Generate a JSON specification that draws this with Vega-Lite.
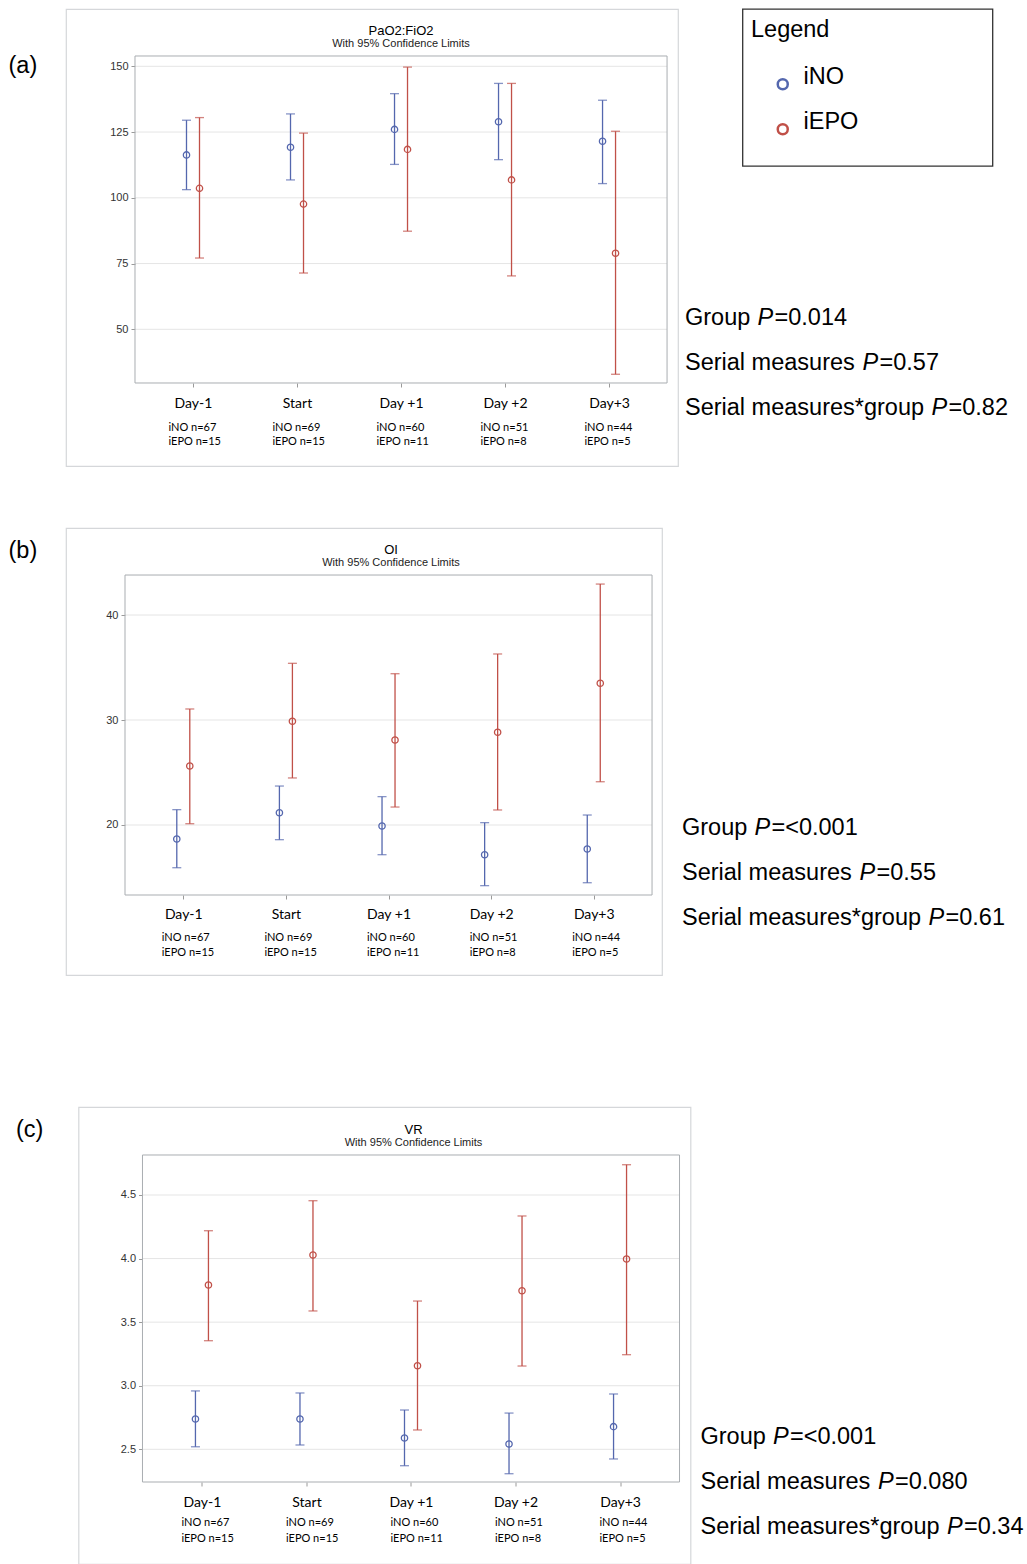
{
"$schema": "https://vega.github.io/schema/vega-lite/v6.json",
"background": "white",
"padding": {"left": 8, "top": 8, "right": 0, "bottom": 0},
"config": {"view": {"stroke": null}, "font": "Liberation Sans"},
"datasets": {
"pao2": [
{"day":-1,"group":"iNO","mean":116.3,"lo":103.1,"hi":129.5},
{"day":-1,"group":"iEPO","mean":103.6,"lo":77.1,"hi":130.5},
{"day":0,"group":"iNO","mean":119.2,"lo":106.8,"hi":131.9},
{"day":0,"group":"iEPO","mean":97.6,"lo":71.4,"hi":124.6},
{"day":1,"group":"iNO","mean":126.0,"lo":112.7,"hi":139.6},
{"day":1,"group":"iEPO","mean":118.4,"lo":87.3,"hi":149.7},
{"day":2,"group":"iNO","mean":128.9,"lo":114.5,"hi":143.5},
{"day":2,"group":"iEPO","mean":106.8,"lo":70.3,"hi":143.5},
{"day":3,"group":"iNO","mean":121.5,"lo":105.4,"hi":137.1},
{"day":3,"group":"iEPO","mean":78.9,"lo":32.9,"hi":125.3}],
"oi": [
{"day":-1,"group":"iNO","mean":18.67,"lo":15.93,"hi":21.46},
{"day":-1,"group":"iEPO","mean":25.62,"lo":20.12,"hi":31.05},
{"day":0,"group":"iNO","mean":21.17,"lo":18.6,"hi":23.71},
{"day":0,"group":"iEPO","mean":29.88,"lo":24.48,"hi":35.4},
{"day":1,"group":"iNO","mean":19.9,"lo":17.17,"hi":22.7},
{"day":1,"group":"iEPO","mean":28.1,"lo":21.71,"hi":34.41},
{"day":2,"group":"iNO","mean":17.17,"lo":14.22,"hi":20.22},
{"day":2,"group":"iEPO","mean":28.83,"lo":21.43,"hi":36.29},
{"day":3,"group":"iNO","mean":17.71,"lo":14.5,"hi":20.95},
{"day":3,"group":"iEPO","mean":33.5,"lo":24.12,"hi":42.95}],
"vr": [
{"day":-1,"group":"iNO","mean":2.738,"lo":2.52,"hi":2.959},
{"day":-1,"group":"iEPO","mean":3.792,"lo":3.354,"hi":4.219},
{"day":0,"group":"iNO","mean":2.738,"lo":2.534,"hi":2.943},
{"day":0,"group":"iEPO","mean":4.028,"lo":3.588,"hi":4.455},
{"day":1,"group":"iNO","mean":2.589,"lo":2.371,"hi":2.809},
{"day":1,"group":"iEPO","mean":3.157,"lo":2.652,"hi":3.666},
{"day":2,"group":"iNO","mean":2.542,"lo":2.308,"hi":2.785},
{"day":2,"group":"iEPO","mean":3.747,"lo":3.155,"hi":4.335},
{"day":3,"group":"iNO","mean":2.678,"lo":2.424,"hi":2.935},
{"day":3,"group":"iEPO","mean":3.997,"lo":3.244,"hi":4.738}],
"ptext": [
{"panel":"a","line":1,"prefix":"Group","p":"P","suffix":"=0.014"},
{"panel":"a","line":2,"prefix":"Serial measures","p":"P","suffix":"=0.57"},
{"panel":"a","line":3,"prefix":"Serial measures*group","p":"P","suffix":"=0.82"},
{"panel":"b","line":1,"prefix":"Group","p":"P","suffix":"=<0.001"},
{"panel":"b","line":2,"prefix":"Serial measures","p":"P","suffix":"=0.55"},
{"panel":"b","line":3,"prefix":"Serial measures*group","p":"P","suffix":"=0.61"},
{"panel":"c","line":1,"prefix":"Group","p":"P","suffix":"=<0.001"},
{"panel":"c","line":2,"prefix":"Serial measures","p":"P","suffix":"=0.080"},
{"panel":"c","line":3,"prefix":"Serial measures*group","p":"P","suffix":"=0.34"}],
"groups": [{"group":"iNO"},{"group":"iEPO"}]
},
"vconcat": [
{"vconcat": [
{"hconcat": [
  {"width": 1, "height": 114, "data": {"values": [{"label": "(a)"}]}, "mark": {"type": "text", "align": "left", "baseline": "middle", "font": "Liberation Sans", "fontSize": 23.5, "color": "#000"}, "encoding": {"text": {"field": "label"}}},
  {"hconcat": [
    {"width": 612, "height": 457,
     "view": {"stroke": "#d5d7da", "strokeWidth": 1.2},
     "title": {"text": "PaO2:FiO2", "subtitle": "With 95% Confidence Limits", "frame": "group", "anchor": "middle", "dx": 29, "offset": -39.5, "baseline": "top", "font": "Liberation Sans", "fontSize": 13, "fontWeight": "normal", "color": "#000", "subtitleFont": "Liberation Sans", "subtitleFontSize": 11, "subtitleColor": "#222", "subtitlePadding": 0},
     "data": {"name": "pao2"},
     "resolve": {"axis": {"x": "independent", "y": "independent"}},
     "layer": [
      {"data": {"values": [{"v":50},{"v":75},{"v":100},{"v":125},{"v":150}]}, "mark": {"type": "rule", "color": "#e5e5e5", "strokeWidth": 1},
       "encoding": {"x": {"datum": -1.5577, "type": "quantitative", "scale": {"domain": [-2.221, 3.663], "nice": false, "zero": false}, "axis": null}, "x2": {"datum": 3.5577},
                    "y": {"field": "v", "type": "quantitative", "scale": {"domain": [-1.98, 171.79], "nice": false, "zero": false}, "axis": null}}},
      {"data": {"values": [{"box": "plot"}]}, "mark": {"type": "rect", "filled": false, "stroke": "#a9adb1", "strokeWidth": 1},
       "encoding": {"x": {"datum": -1.5577, "type": "quantitative", "scale": {"domain": [-2.221, 3.663], "nice": false, "zero": false}, "axis": null}, "x2": {"datum": 3.5577},
                    "y": {"datum": 29.58, "type": "quantitative", "scale": {"domain": [-1.98, 171.79], "nice": false, "zero": false}, "axis": null}, "y2": {"datum": 153.92}}},
      {"transform": [{"filter": "datum.group == 'iNO'"}], "mark": {"type": "rule", "color": "#5467ae", "strokeWidth": 1.3, "xOffset": -6.5},
       "encoding": {"x": {"field": "day", "type": "quantitative", "scale": {"domain": [-2.221, 3.663], "nice": false, "zero": false},
                          "axis": {"orient": "bottom", "offset": -83, "values": [-1,0,1,2,3], "labelExpr": "datum.value == -1 ? 'Day-1' : datum.value == 0 ? 'Start' : datum.value == 1 ? 'Day +1' : datum.value == 2 ? 'Day +2' : 'Day+3'", "title": null, "grid": false, "domain": false, "tickSize": 4, "tickColor": "#9a9a9a", "labelFont": "Lato", "labelFontSize": 14, "labelColor": "#000", "labelPadding": 9, "labelFlush": false, "labelOverlap": false}},
                    "y": {"field": "lo", "type": "quantitative", "scale": {"domain": [-1.98, 171.79], "nice": false, "zero": false},
                          "axis": {"orient": "left", "offset": -69, "values": [50,75,100,125,150], "title": null, "grid": false, "domain": false, "tickSize": 4, "tickColor": "#9a9a9a", "labelFont": "Liberation Sans", "labelFontSize": 11, "labelColor": "#333", "labelPadding": 3, "labelFlush": false, "labelOverlap": false}},
                    "y2": {"field": "hi"}}},
      {"transform": [{"filter": "datum.group == 'iNO'"}, {"fold": ["lo", "hi"], "as": ["bound", "val"]}], "mark": {"type": "tick", "orient": "horizontal", "color": "#5467ae", "size": 9, "thickness": 1.3, "xOffset": -6.5},
       "encoding": {"x": {"field": "day", "type": "quantitative", "scale": {"domain": [-2.221, 3.663], "nice": false, "zero": false}, "axis": null},
                    "y": {"field": "val", "type": "quantitative", "scale": {"domain": [-1.98, 171.79], "nice": false, "zero": false}, "axis": null}}},
      {"transform": [{"filter": "datum.group == 'iNO'"}], "mark": {"type": "point", "shape": "circle", "filled": false, "size": 40, "strokeWidth": 1.3, "color": "#5467ae", "opacity": 1, "xOffset": -6.5},
       "encoding": {"x": {"field": "day", "type": "quantitative", "scale": {"domain": [-2.221, 3.663], "nice": false, "zero": false}, "axis": null},
                    "y": {"field": "mean", "type": "quantitative", "scale": {"domain": [-1.98, 171.79], "nice": false, "zero": false}, "axis": null}}},
      {"transform": [{"filter": "datum.group == 'iEPO'"}], "mark": {"type": "rule", "color": "#c05048", "strokeWidth": 1.3, "xOffset": 6.5},
       "encoding": {"x": {"field": "day", "type": "quantitative", "scale": {"domain": [-2.221, 3.663], "nice": false, "zero": false},
                          "axis": {"orient": "bottom", "offset": -45, "values": [-1,0,1,2,3], "labelExpr": "datum.value == -1 ? ['iNO n=67', 'iEPO n=15'] : datum.value == 0 ? ['iNO n=69', 'iEPO n=15'] : datum.value == 1 ? ['iNO n=60', 'iEPO n=11'] : datum.value == 2 ? ['iNO n=51', 'iEPO n=8'] : ['iNO n=44', 'iEPO n=5']", "title": null, "grid": false, "domain": false, "ticks": false, "labelFont": "Lato", "labelFontSize": 11, "labelColor": "#000", "labelAlign": "left", "labelOffset": -25, "labelPadding": 0, "labelLineHeight": 14, "labelBaseline": "top", "labelFlush": false, "labelOverlap": false}},
                    "y": {"field": "lo", "type": "quantitative", "scale": {"domain": [-1.98, 171.79], "nice": false, "zero": false}, "axis": null},
                    "y2": {"field": "hi"}}},
      {"transform": [{"filter": "datum.group == 'iEPO'"}, {"fold": ["lo", "hi"], "as": ["bound", "val"]}], "mark": {"type": "tick", "orient": "horizontal", "color": "#c05048", "size": 9, "thickness": 1.3, "xOffset": 6.5},
       "encoding": {"x": {"field": "day", "type": "quantitative", "scale": {"domain": [-2.221, 3.663], "nice": false, "zero": false}, "axis": null},
                    "y": {"field": "val", "type": "quantitative", "scale": {"domain": [-1.98, 171.79], "nice": false, "zero": false}, "axis": null}}},
      {"transform": [{"filter": "datum.group == 'iEPO'"}], "mark": {"type": "point", "shape": "circle", "filled": false, "size": 40, "strokeWidth": 1.3, "color": "#c05048", "opacity": 1, "xOffset": 6.5},
       "encoding": {"x": {"field": "day", "type": "quantitative", "scale": {"domain": [-2.221, 3.663], "nice": false, "zero": false}, "axis": null},
                    "y": {"field": "mean", "type": "quantitative", "scale": {"domain": [-1.98, 171.79], "nice": false, "zero": false}, "axis": null}}}
     ]},
    {"vconcat": [
      {"hconcat": [
        {"width": 57, "height": 1, "data": {"values": []}, "mark": "point"},
        {"width": 250, "height": 157, "view": {"stroke": "#333", "strokeWidth": 1.3}, "data": {"name": "groups"},
         "mark": {"type": "point", "shape": "circle", "filled": false, "opacity": 0},
         "encoding": {"color": {"field": "group", "type": "nominal", "scale": {"domain": ["iNO", "iEPO"], "range": ["#5467ae", "#c05048"]},
           "legend": {"title": "Legend", "orient": "none", "legendX": 743, "legendY": 9, "padding": 0, "titleFont": "Liberation Sans", "titleFontSize": 23.5, "titleFontWeight": "normal", "titleColor": "#000", "titlePadding": 31, "labelFont": "Liberation Sans", "labelFontSize": 23.5, "labelColor": "#000", "labelBaseline": "alphabetic", "symbolType": "circle", "symbolSize": 100, "symbolStrokeWidth": 2.5, "symbolOpacity": 1, "symbolOffset": 20, "labelOffset": 9, "rowPadding": 15}}}}
      ], "spacing": 0},
      {"vconcat": [
        {"hconcat": [
          {"width": 1, "height": 45, "data": {"name": "ptext"}, "transform": [{"filter": "datum.panel == 'a' && datum.line == 1"}], "mark": {"type": "text", "align": "left", "baseline": "middle", "font": "Liberation Sans", "fontSize": 23.5, "color": "#000"}, "encoding": {"text": {"field": "prefix"}}},
          {"hconcat": [
            {"width": 1, "height": 45, "data": {"name": "ptext"}, "transform": [{"filter": "datum.panel == 'a' && datum.line == 1"}], "mark": {"type": "text", "align": "left", "baseline": "middle", "font": "Liberation Sans", "fontSize": 23.5, "fontStyle": "italic", "color": "#000"}, "encoding": {"text": {"field": "p"}}},
            {"width": 1, "height": 45, "data": {"name": "ptext"}, "transform": [{"filter": "datum.panel == 'a' && datum.line == 1"}], "mark": {"type": "text", "align": "left", "baseline": "middle", "font": "Liberation Sans", "fontSize": 23.5, "color": "#000"}, "encoding": {"text": {"field": "suffix"}}}
          ], "spacing": 0}
        ], "spacing": 6.5},
        {"hconcat": [
          {"width": 1, "height": 45, "data": {"name": "ptext"}, "transform": [{"filter": "datum.panel == 'a' && datum.line == 2"}], "mark": {"type": "text", "align": "left", "baseline": "middle", "font": "Liberation Sans", "fontSize": 23.5, "color": "#000"}, "encoding": {"text": {"field": "prefix"}}},
          {"hconcat": [
            {"width": 1, "height": 45, "data": {"name": "ptext"}, "transform": [{"filter": "datum.panel == 'a' && datum.line == 2"}], "mark": {"type": "text", "align": "left", "baseline": "middle", "font": "Liberation Sans", "fontSize": 23.5, "fontStyle": "italic", "color": "#000"}, "encoding": {"text": {"field": "p"}}},
            {"width": 1, "height": 45, "data": {"name": "ptext"}, "transform": [{"filter": "datum.panel == 'a' && datum.line == 2"}], "mark": {"type": "text", "align": "left", "baseline": "middle", "font": "Liberation Sans", "fontSize": 23.5, "color": "#000"}, "encoding": {"text": {"field": "suffix"}}}
          ], "spacing": 0}
        ], "spacing": 6.5},
        {"hconcat": [
          {"width": 1, "height": 45, "data": {"name": "ptext"}, "transform": [{"filter": "datum.panel == 'a' && datum.line == 3"}], "mark": {"type": "text", "align": "left", "baseline": "middle", "font": "Liberation Sans", "fontSize": 23.5, "color": "#000"}, "encoding": {"text": {"field": "prefix"}}},
          {"hconcat": [
            {"width": 1, "height": 45, "data": {"name": "ptext"}, "transform": [{"filter": "datum.panel == 'a' && datum.line == 3"}], "mark": {"type": "text", "align": "left", "baseline": "middle", "font": "Liberation Sans", "fontSize": 23.5, "fontStyle": "italic", "color": "#000"}, "encoding": {"text": {"field": "p"}}},
            {"width": 1, "height": 45, "data": {"name": "ptext"}, "transform": [{"filter": "datum.panel == 'a' && datum.line == 3"}], "mark": {"type": "text", "align": "left", "baseline": "middle", "font": "Liberation Sans", "fontSize": 23.5, "color": "#000"}, "encoding": {"text": {"field": "suffix"}}}
          ], "spacing": 0}
        ], "spacing": 6.5}
      ], "spacing": 0}
    ], "spacing": 128.5}
  ], "spacing": 5.5}
], "spacing": 27},
{"hconcat": [
  {"width": 1, "height": 46, "data": {"values": [{"label": "(b)"}]}, "mark": {"type": "text", "align": "left", "baseline": "middle", "font": "Liberation Sans", "fontSize": 23.5, "color": "#000"}, "encoding": {"text": {"field": "label"}}},
  {"hconcat": [
    {"width": 596, "height": 447,
     "view": {"stroke": "#d5d7da", "strokeWidth": 1.2},
     "title": {"text": "OI", "subtitle": "With 95% Confidence Limits", "frame": "group", "anchor": "middle", "dx": 27, "offset": -39.5, "baseline": "top", "font": "Liberation Sans", "fontSize": 13, "fontWeight": "normal", "color": "#000", "subtitleFont": "Liberation Sans", "subtitleFontSize": 11, "subtitleColor": "#222", "subtitlePadding": 0},
     "data": {"name": "oi"},
     "resolve": {"axis": {"x": "independent", "y": "independent"}},
     "layer": [
      {"data": {"values": [{"v":20},{"v":30},{"v":40}]}, "mark": {"type": "rule", "color": "#e5e5e5", "strokeWidth": 1},
       "encoding": {"x": {"datum": -1.568, "type": "quantitative", "scale": {"domain": [-2.143, 3.665], "nice": false, "zero": false}, "axis": null}, "x2": {"datum": 3.568},
                    "y": {"field": "v", "type": "quantitative", "scale": {"domain": [5.71, 48.29], "nice": false, "zero": false}, "axis": null}}},
      {"data": {"values": [{"box": "plot"}]}, "mark": {"type": "rect", "filled": false, "stroke": "#a9adb1", "strokeWidth": 1},
       "encoding": {"x": {"datum": -1.568, "type": "quantitative", "scale": {"domain": [-2.143, 3.665], "nice": false, "zero": false}, "axis": null}, "x2": {"datum": 3.568},
                    "y": {"datum": 13.33, "type": "quantitative", "scale": {"domain": [5.71, 48.29], "nice": false, "zero": false}, "axis": null}, "y2": {"datum": 43.81}}},
      {"transform": [{"filter": "datum.group == 'iNO'"}], "mark": {"type": "rule", "color": "#5467ae", "strokeWidth": 1.3, "xOffset": -6.5},
       "encoding": {"x": {"field": "day", "type": "quantitative", "scale": {"domain": [-2.143, 3.665], "nice": false, "zero": false},
                          "axis": {"orient": "bottom", "offset": -80, "values": [-1,0,1,2,3], "labelExpr": "datum.value == -1 ? 'Day-1' : datum.value == 0 ? 'Start' : datum.value == 1 ? 'Day +1' : datum.value == 2 ? 'Day +2' : 'Day+3'", "title": null, "grid": false, "domain": false, "tickSize": 4, "tickColor": "#9a9a9a", "labelFont": "Lato", "labelFontSize": 14, "labelColor": "#000", "labelPadding": 8, "labelFlush": false, "labelOverlap": false}},
                    "y": {"field": "lo", "type": "quantitative", "scale": {"domain": [5.71, 48.29], "nice": false, "zero": false},
                          "axis": {"orient": "left", "offset": -59, "values": [20,30,40], "title": null, "grid": false, "domain": false, "tickSize": 4, "tickColor": "#9a9a9a", "labelFont": "Liberation Sans", "labelFontSize": 11, "labelColor": "#333", "labelPadding": 3, "labelFlush": false, "labelOverlap": false}},
                    "y2": {"field": "hi"}}},
      {"transform": [{"filter": "datum.group == 'iNO'"}, {"fold": ["lo", "hi"], "as": ["bound", "val"]}], "mark": {"type": "tick", "orient": "horizontal", "color": "#5467ae", "size": 9, "thickness": 1.3, "xOffset": -6.5},
       "encoding": {"x": {"field": "day", "type": "quantitative", "scale": {"domain": [-2.143, 3.665], "nice": false, "zero": false}, "axis": null},
                    "y": {"field": "val", "type": "quantitative", "scale": {"domain": [5.71, 48.29], "nice": false, "zero": false}, "axis": null}}},
      {"transform": [{"filter": "datum.group == 'iNO'"}], "mark": {"type": "point", "shape": "circle", "filled": false, "size": 40, "strokeWidth": 1.3, "color": "#5467ae", "opacity": 1, "xOffset": -6.5},
       "encoding": {"x": {"field": "day", "type": "quantitative", "scale": {"domain": [-2.143, 3.665], "nice": false, "zero": false}, "axis": null},
                    "y": {"field": "mean", "type": "quantitative", "scale": {"domain": [5.71, 48.29], "nice": false, "zero": false}, "axis": null}}},
      {"transform": [{"filter": "datum.group == 'iEPO'"}], "mark": {"type": "rule", "color": "#c05048", "strokeWidth": 1.3, "xOffset": 6.5},
       "encoding": {"x": {"field": "day", "type": "quantitative", "scale": {"domain": [-2.143, 3.665], "nice": false, "zero": false},
                          "axis": {"orient": "bottom", "offset": -43.5, "values": [-1,0,1,2,3], "labelExpr": "datum.value == -1 ? ['iNO n=67', 'iEPO n=15'] : datum.value == 0 ? ['iNO n=69', 'iEPO n=15'] : datum.value == 1 ? ['iNO n=60', 'iEPO n=11'] : datum.value == 2 ? ['iNO n=51', 'iEPO n=8'] : ['iNO n=44', 'iEPO n=5']", "title": null, "grid": false, "domain": false, "ticks": false, "labelFont": "Lato", "labelFontSize": 11, "labelColor": "#000", "labelAlign": "left", "labelOffset": -22, "labelPadding": 0, "labelLineHeight": 15, "labelBaseline": "top", "labelFlush": false, "labelOverlap": false}},
                    "y": {"field": "lo", "type": "quantitative", "scale": {"domain": [5.71, 48.29], "nice": false, "zero": false}, "axis": null},
                    "y2": {"field": "hi"}}},
      {"transform": [{"filter": "datum.group == 'iEPO'"}, {"fold": ["lo", "hi"], "as": ["bound", "val"]}], "mark": {"type": "tick", "orient": "horizontal", "color": "#c05048", "size": 9, "thickness": 1.3, "xOffset": 6.5},
       "encoding": {"x": {"field": "day", "type": "quantitative", "scale": {"domain": [-2.143, 3.665], "nice": false, "zero": false}, "axis": null},
                    "y": {"field": "val", "type": "quantitative", "scale": {"domain": [5.71, 48.29], "nice": false, "zero": false}, "axis": null}}},
      {"transform": [{"filter": "datum.group == 'iEPO'"}], "mark": {"type": "point", "shape": "circle", "filled": false, "size": 40, "strokeWidth": 1.3, "color": "#c05048", "opacity": 1, "xOffset": 6.5},
       "encoding": {"x": {"field": "day", "type": "quantitative", "scale": {"domain": [-2.143, 3.665], "nice": false, "zero": false}, "axis": null},
                    "y": {"field": "mean", "type": "quantitative", "scale": {"domain": [5.71, 48.29], "nice": false, "zero": false}, "axis": null}}}
     ]},
    {"vconcat": [
      {"width": 1, "height": 276.5, "data": {"values": []}, "mark": "point"},
      {"vconcat": [
        {"hconcat": [
          {"width": 1, "height": 45, "data": {"name": "ptext"}, "transform": [{"filter": "datum.panel == 'b' && datum.line == 1"}], "mark": {"type": "text", "align": "left", "baseline": "middle", "font": "Liberation Sans", "fontSize": 23.5, "color": "#000"}, "encoding": {"text": {"field": "prefix"}}},
          {"hconcat": [
            {"width": 1, "height": 45, "data": {"name": "ptext"}, "transform": [{"filter": "datum.panel == 'b' && datum.line == 1"}], "mark": {"type": "text", "align": "left", "baseline": "middle", "font": "Liberation Sans", "fontSize": 23.5, "fontStyle": "italic", "color": "#000"}, "encoding": {"text": {"field": "p"}}},
            {"width": 1, "height": 45, "data": {"name": "ptext"}, "transform": [{"filter": "datum.panel == 'b' && datum.line == 1"}], "mark": {"type": "text", "align": "left", "baseline": "middle", "font": "Liberation Sans", "fontSize": 23.5, "color": "#000"}, "encoding": {"text": {"field": "suffix"}}}
          ], "spacing": 0}
        ], "spacing": 6.5},
        {"hconcat": [
          {"width": 1, "height": 45, "data": {"name": "ptext"}, "transform": [{"filter": "datum.panel == 'b' && datum.line == 2"}], "mark": {"type": "text", "align": "left", "baseline": "middle", "font": "Liberation Sans", "fontSize": 23.5, "color": "#000"}, "encoding": {"text": {"field": "prefix"}}},
          {"hconcat": [
            {"width": 1, "height": 45, "data": {"name": "ptext"}, "transform": [{"filter": "datum.panel == 'b' && datum.line == 2"}], "mark": {"type": "text", "align": "left", "baseline": "middle", "font": "Liberation Sans", "fontSize": 23.5, "fontStyle": "italic", "color": "#000"}, "encoding": {"text": {"field": "p"}}},
            {"width": 1, "height": 45, "data": {"name": "ptext"}, "transform": [{"filter": "datum.panel == 'b' && datum.line == 2"}], "mark": {"type": "text", "align": "left", "baseline": "middle", "font": "Liberation Sans", "fontSize": 23.5, "color": "#000"}, "encoding": {"text": {"field": "suffix"}}}
          ], "spacing": 0}
        ], "spacing": 6.5},
        {"hconcat": [
          {"width": 1, "height": 45, "data": {"name": "ptext"}, "transform": [{"filter": "datum.panel == 'b' && datum.line == 3"}], "mark": {"type": "text", "align": "left", "baseline": "middle", "font": "Liberation Sans", "fontSize": 23.5, "color": "#000"}, "encoding": {"text": {"field": "prefix"}}},
          {"hconcat": [
            {"width": 1, "height": 45, "data": {"name": "ptext"}, "transform": [{"filter": "datum.panel == 'b' && datum.line == 3"}], "mark": {"type": "text", "align": "left", "baseline": "middle", "font": "Liberation Sans", "fontSize": 23.5, "fontStyle": "italic", "color": "#000"}, "encoding": {"text": {"field": "p"}}},
            {"width": 1, "height": 45, "data": {"name": "ptext"}, "transform": [{"filter": "datum.panel == 'b' && datum.line == 3"}], "mark": {"type": "text", "align": "left", "baseline": "middle", "font": "Liberation Sans", "fontSize": 23.5, "color": "#000"}, "encoding": {"text": {"field": "suffix"}}}
          ], "spacing": 0}
        ], "spacing": 6.5}
      ], "spacing": 0}
    ], "spacing": 0}
  ], "spacing": 18.5}
], "spacing": 27}
], "spacing": 60},
{"hconcat": [
  {"width": 16, "height": 46, "data": {"values": [{"label": "(c)"}]}, "mark": {"type": "text", "align": "left", "baseline": "middle", "font": "Liberation Sans", "fontSize": 23.5, "color": "#000"}, "encoding": {"text": {"field": "label"}}},
  {"hconcat": [
    {"width": 612, "height": 457,
     "view": {"stroke": "#d5d7da", "strokeWidth": 1.2},
     "title": {"text": "VR", "subtitle": "With 95% Confidence Limits", "frame": "group", "anchor": "middle", "dx": 29, "offset": -40.5, "baseline": "top", "font": "Liberation Sans", "fontSize": 13, "fontWeight": "normal", "color": "#000", "subtitleFont": "Liberation Sans", "subtitleFontSize": 11, "subtitleColor": "#222", "subtitlePadding": 0},
     "data": {"name": "vr"},
     "resolve": {"axis": {"x": "independent", "y": "independent"}},
     "layer": [
      {"data": {"values": [{"v":2.5},{"v":3.0},{"v":3.5},{"v":4.0},{"v":4.5}]}, "mark": {"type": "rule", "color": "#e5e5e5", "strokeWidth": 1},
       "encoding": {"x": {"datum": -1.569, "type": "quantitative", "scale": {"domain": [-2.181, 3.674], "nice": false, "zero": false}, "axis": null}, "x2": {"datum": 3.569},
                    "y": {"field": "v", "type": "quantitative", "scale": {"domain": [1.598, 5.192], "nice": false, "zero": false}, "axis": null}}},
      {"data": {"values": [{"box": "plot"}]}, "mark": {"type": "rect", "filled": false, "stroke": "#a9adb1", "strokeWidth": 1},
       "encoding": {"x": {"datum": -1.569, "type": "quantitative", "scale": {"domain": [-2.181, 3.674], "nice": false, "zero": false}, "axis": null}, "x2": {"datum": 3.569},
                    "y": {"datum": 2.2428, "type": "quantitative", "scale": {"domain": [1.598, 5.192], "nice": false, "zero": false}, "axis": null}, "y2": {"datum": 4.8146}}},
      {"transform": [{"filter": "datum.group == 'iNO'"}], "mark": {"type": "rule", "color": "#5467ae", "strokeWidth": 1.3, "xOffset": -6.5},
       "encoding": {"x": {"field": "day", "type": "quantitative", "scale": {"domain": [-2.181, 3.674], "nice": false, "zero": false},
                          "axis": {"orient": "bottom", "offset": -82, "values": [-1,0,1,2,3], "labelExpr": "datum.value == -1 ? 'Day-1' : datum.value == 0 ? 'Start' : datum.value == 1 ? 'Day +1' : datum.value == 2 ? 'Day +2' : 'Day+3'", "title": null, "grid": false, "domain": false, "tickSize": 4, "tickColor": "#9a9a9a", "labelFont": "Lato", "labelFontSize": 14, "labelColor": "#000", "labelPadding": 9, "labelFlush": false, "labelOverlap": false}},
                    "y": {"field": "lo", "type": "quantitative", "scale": {"domain": [1.598, 5.192], "nice": false, "zero": false},
                          "axis": {"orient": "left", "offset": -64, "values": [2.5,3,3.5,4,4.5], "format": ".1f", "title": null, "grid": false, "domain": false, "tickSize": 4, "tickColor": "#9a9a9a", "labelFont": "Liberation Sans", "labelFontSize": 11, "labelColor": "#333", "labelPadding": 3, "labelFlush": false, "labelOverlap": false}},
                    "y2": {"field": "hi"}}},
      {"transform": [{"filter": "datum.group == 'iNO'"}, {"fold": ["lo", "hi"], "as": ["bound", "val"]}], "mark": {"type": "tick", "orient": "horizontal", "color": "#5467ae", "size": 9, "thickness": 1.3, "xOffset": -6.5},
       "encoding": {"x": {"field": "day", "type": "quantitative", "scale": {"domain": [-2.181, 3.674], "nice": false, "zero": false}, "axis": null},
                    "y": {"field": "val", "type": "quantitative", "scale": {"domain": [1.598, 5.192], "nice": false, "zero": false}, "axis": null}}},
      {"transform": [{"filter": "datum.group == 'iNO'"}], "mark": {"type": "point", "shape": "circle", "filled": false, "size": 40, "strokeWidth": 1.3, "color": "#5467ae", "opacity": 1, "xOffset": -6.5},
       "encoding": {"x": {"field": "day", "type": "quantitative", "scale": {"domain": [-2.181, 3.674], "nice": false, "zero": false}, "axis": null},
                    "y": {"field": "mean", "type": "quantitative", "scale": {"domain": [1.598, 5.192], "nice": false, "zero": false}, "axis": null}}},
      {"transform": [{"filter": "datum.group == 'iEPO'"}], "mark": {"type": "rule", "color": "#c05048", "strokeWidth": 1.3, "xOffset": 6.5},
       "encoding": {"x": {"field": "day", "type": "quantitative", "scale": {"domain": [-2.181, 3.674], "nice": false, "zero": false},
                          "axis": {"orient": "bottom", "offset": -47.5, "values": [-1,0,1,2,3], "labelExpr": "datum.value == -1 ? ['iNO n=67', 'iEPO n=15'] : datum.value == 0 ? ['iNO n=69', 'iEPO n=15'] : datum.value == 1 ? ['iNO n=60', 'iEPO n=11'] : datum.value == 2 ? ['iNO n=51', 'iEPO n=8'] : ['iNO n=44', 'iEPO n=5']", "title": null, "grid": false, "domain": false, "ticks": false, "labelFont": "Lato", "labelFontSize": 11, "labelColor": "#000", "labelAlign": "left", "labelOffset": -21, "labelPadding": 0, "labelLineHeight": 16, "labelBaseline": "top", "labelFlush": false, "labelOverlap": false}},
                    "y": {"field": "lo", "type": "quantitative", "scale": {"domain": [1.598, 5.192], "nice": false, "zero": false}, "axis": null},
                    "y2": {"field": "hi"}}},
      {"transform": [{"filter": "datum.group == 'iEPO'"}, {"fold": ["lo", "hi"], "as": ["bound", "val"]}], "mark": {"type": "tick", "orient": "horizontal", "color": "#c05048", "size": 9, "thickness": 1.3, "xOffset": 6.5},
       "encoding": {"x": {"field": "day", "type": "quantitative", "scale": {"domain": [-2.181, 3.674], "nice": false, "zero": false}, "axis": null},
                    "y": {"field": "val", "type": "quantitative", "scale": {"domain": [1.598, 5.192], "nice": false, "zero": false}, "axis": null}}},
      {"transform": [{"filter": "datum.group == 'iEPO'"}], "mark": {"type": "point", "shape": "circle", "filled": false, "size": 40, "strokeWidth": 1.3, "color": "#c05048", "opacity": 1, "xOffset": 6.5},
       "encoding": {"x": {"field": "day", "type": "quantitative", "scale": {"domain": [-2.181, 3.674], "nice": false, "zero": false}, "axis": null},
                    "y": {"field": "mean", "type": "quantitative", "scale": {"domain": [1.598, 5.192], "nice": false, "zero": false}, "axis": null}}}
     ]},
    {"vconcat": [
      {"width": 1, "height": 306.5, "data": {"values": []}, "mark": "point"},
      {"vconcat": [
        {"hconcat": [
          {"width": 1, "height": 45, "data": {"name": "ptext"}, "transform": [{"filter": "datum.panel == 'c' && datum.line == 1"}], "mark": {"type": "text", "align": "left", "baseline": "middle", "font": "Liberation Sans", "fontSize": 23.5, "color": "#000"}, "encoding": {"text": {"field": "prefix"}}},
          {"hconcat": [
            {"width": 1, "height": 45, "data": {"name": "ptext"}, "transform": [{"filter": "datum.panel == 'c' && datum.line == 1"}], "mark": {"type": "text", "align": "left", "baseline": "middle", "font": "Liberation Sans", "fontSize": 23.5, "fontStyle": "italic", "color": "#000"}, "encoding": {"text": {"field": "p"}}},
            {"width": 1, "height": 45, "data": {"name": "ptext"}, "transform": [{"filter": "datum.panel == 'c' && datum.line == 1"}], "mark": {"type": "text", "align": "left", "baseline": "middle", "font": "Liberation Sans", "fontSize": 23.5, "color": "#000"}, "encoding": {"text": {"field": "suffix"}}}
          ], "spacing": 0}
        ], "spacing": 6.5},
        {"hconcat": [
          {"width": 1, "height": 45, "data": {"name": "ptext"}, "transform": [{"filter": "datum.panel == 'c' && datum.line == 2"}], "mark": {"type": "text", "align": "left", "baseline": "middle", "font": "Liberation Sans", "fontSize": 23.5, "color": "#000"}, "encoding": {"text": {"field": "prefix"}}},
          {"hconcat": [
            {"width": 1, "height": 45, "data": {"name": "ptext"}, "transform": [{"filter": "datum.panel == 'c' && datum.line == 2"}], "mark": {"type": "text", "align": "left", "baseline": "middle", "font": "Liberation Sans", "fontSize": 23.5, "fontStyle": "italic", "color": "#000"}, "encoding": {"text": {"field": "p"}}},
            {"width": 1, "height": 45, "data": {"name": "ptext"}, "transform": [{"filter": "datum.panel == 'c' && datum.line == 2"}], "mark": {"type": "text", "align": "left", "baseline": "middle", "font": "Liberation Sans", "fontSize": 23.5, "color": "#000"}, "encoding": {"text": {"field": "suffix"}}}
          ], "spacing": 0}
        ], "spacing": 6.5},
        {"hconcat": [
          {"width": 1, "height": 45, "data": {"name": "ptext"}, "transform": [{"filter": "datum.panel == 'c' && datum.line == 3"}], "mark": {"type": "text", "align": "left", "baseline": "middle", "font": "Liberation Sans", "fontSize": 23.5, "color": "#000"}, "encoding": {"text": {"field": "prefix"}}},
          {"hconcat": [
            {"width": 1, "height": 45, "data": {"name": "ptext"}, "transform": [{"filter": "datum.panel == 'c' && datum.line == 3"}], "mark": {"type": "text", "align": "left", "baseline": "middle", "font": "Liberation Sans", "fontSize": 23.5, "fontStyle": "italic", "color": "#000"}, "encoding": {"text": {"field": "p"}}},
            {"width": 1, "height": 45, "data": {"name": "ptext"}, "transform": [{"filter": "datum.panel == 'c' && datum.line == 3"}], "mark": {"type": "text", "align": "left", "baseline": "middle", "font": "Liberation Sans", "fontSize": 23.5, "color": "#000"}, "encoding": {"text": {"field": "suffix"}}}
          ], "spacing": 0}
        ], "spacing": 6.5}
      ], "spacing": 0}
    ], "spacing": 0}
  ], "spacing": 8.5}
], "spacing": 33.5}
],
"spacing": 130
}
